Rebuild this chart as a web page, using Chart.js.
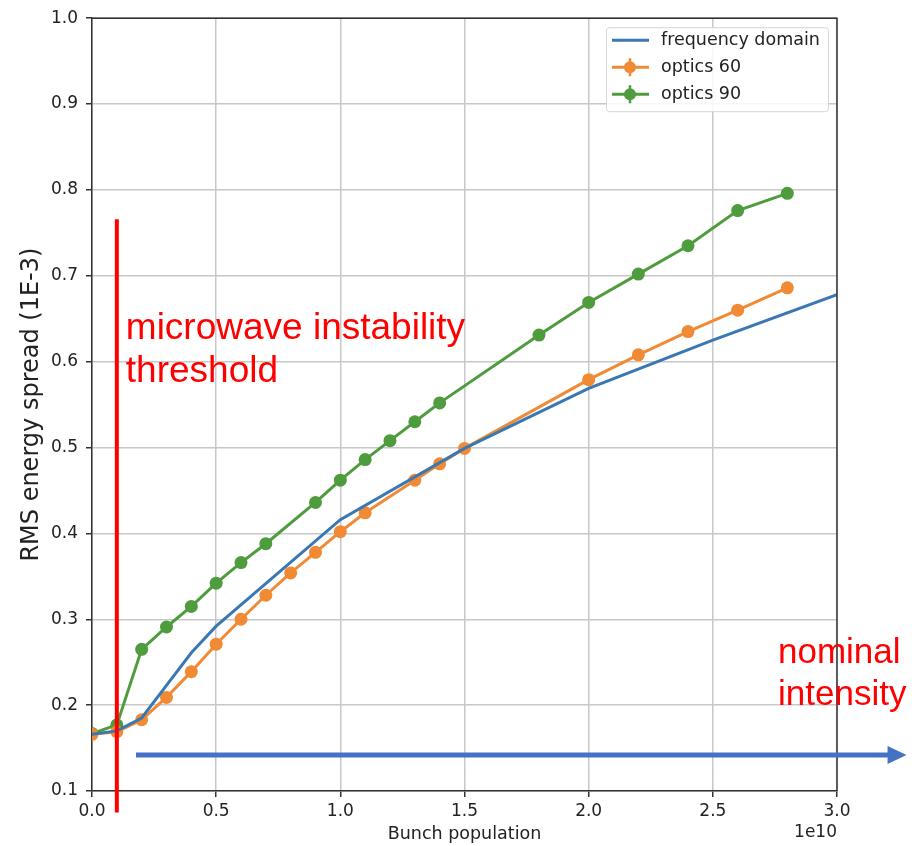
<!DOCTYPE html>
<html>
<head>
<meta charset="utf-8">
<script src="https://cdn.jsdelivr.net/npm/chart.js@4.4.1/dist/chart.umd.min.js"></script>
<style>
  body { margin: 0; background: #fff; }
  #wrap { width: 921px; height: 846px; }
</style>
</head>
<body>
<div id="wrap"><canvas id="chart" width="921" height="846"></canvas></div>
<script>
// bunch population (1e10) and rms energy spread (1E-3)
const popFreq = [0, 0.1, 0.2, 0.3, 0.4, 0.5, 1.0, 1.5, 2.0, 2.5, 3.0];
const spreadFreq = [0.166, 0.170, 0.185, 0.223, 0.261, 0.292, 0.416, 0.499, 0.569, 0.625, 0.678];

const popOptics60 = [0, 0.1, 0.2, 0.3, 0.4, 0.5, 0.6, 0.7, 0.8, 0.9, 1.0, 1.1, 1.3, 1.4, 1.5, 2.0, 2.2, 2.4, 2.6, 2.8];
const spreadOptics60 = [0.166, 0.169, 0.183, 0.209, 0.239, 0.271, 0.300, 0.328, 0.354, 0.378, 0.402, 0.424, 0.462, 0.481, 0.499, 0.579, 0.608, 0.635, 0.660, 0.686];

const popOptics90 = [0, 0.1, 0.2, 0.3, 0.4, 0.5, 0.6, 0.7, 0.9, 1.0, 1.1, 1.2, 1.3, 1.4, 1.8, 2.0, 2.2, 2.4, 2.6, 2.8];
const spreadOptics90 = [0.167, 0.177, 0.265, 0.291, 0.315, 0.342, 0.366, 0.388, 0.436, 0.462, 0.486, 0.508, 0.530, 0.552, 0.631, 0.669, 0.702, 0.735, 0.776, 0.796];

const seriesNames = ['frequency domain', 'optics 60', 'optics 90'];

// annotation anchors, in data units
const thresholdPop = 0.1;
const thresholdTop = 0.766;
const thresholdBottom = 0.075;
const arrowStart = 0.177;
const arrowEnd = 3.28;
const arrowLevel = 0.142;

const BLUE = '#3a78b4';
const ORANGE = '#f08a34';
const GREEN = '#4f9c3e';
const TICK_FONT = { family: 'DejaVu Sans', size: 17 };

function pts(xs, ys) {
    return xs.map((x, i) => ({ x: x, y: ys[i] }));
}

// frame, legend and the slide annotations
const extras = {
    id: 'extras',
    afterDatasetsDraw(chart) {
        const ctx = chart.ctx;
        const a = chart.chartArea;
        ctx.save();
        ctx.strokeStyle = '#333';
        ctx.lineWidth = 1.5;
        ctx.beginPath();
        ctx.moveTo(a.left, a.top);
        ctx.lineTo(a.right, a.top);
        ctx.lineTo(a.right, a.bottom);
        ctx.stroke();

        // legend box
        const lx = a.right - 231, ly = a.top + 9, lw = 222, lh = 84;
        ctx.fillStyle = 'rgba(255,255,255,0.85)';
        ctx.strokeStyle = '#d6d6d6';
        ctx.lineWidth = 1;
        ctx.beginPath();
        ctx.roundRect(lx + 0.5, ly + 0.5, lw, lh, 3);
        ctx.fill();
        ctx.stroke();
        ctx.font = '17.5px "DejaVu Sans"';
        ctx.textBaseline = 'middle';
        chart.data.datasets.forEach((ds, i) => {
            const ry = ly + 13 + i * 27;
            ctx.strokeStyle = ds.borderColor;
            ctx.lineWidth = 3;
            ctx.beginPath();
            ctx.moveTo(lx + 6, ry);
            ctx.lineTo(lx + 43, ry);
            ctx.stroke();
            if (i > 0) {
                ctx.fillStyle = ds.borderColor;
                ctx.beginPath();
                ctx.arc(lx + 24, ry, 6, 0, Math.PI * 2);
                ctx.fill();
                ctx.lineWidth = 2.5;
                ctx.beginPath();
                ctx.moveTo(lx + 24, ry - 9);
                ctx.lineTo(lx + 24, ry + 9);
                ctx.stroke();
            }
            ctx.fillStyle = '#222';
            ctx.fillText(ds.label, lx + 55, ry);
        });
        ctx.restore();
    },
    afterDraw(chart) {
        const ctx = chart.ctx;
        const xs = chart.scales.x, ys = chart.scales.y;
        const a = chart.chartArea;
        ctx.save();

        // offset text
        ctx.fillStyle = '#222';
        ctx.font = '17px "DejaVu Sans"';
        ctx.textAlign = 'right';
        ctx.textBaseline = 'middle';
        ctx.fillText('1e10', a.right, 833);

        // threshold line
        const tx = xs.getPixelForValue(thresholdPop);
        ctx.strokeStyle = '#ff0000';
        ctx.lineWidth = 4;
        ctx.beginPath();
        ctx.moveTo(tx, ys.getPixelForValue(thresholdTop));
        ctx.lineTo(tx, ys.getPixelForValue(thresholdBottom));
        ctx.stroke();

        // nominal intensity arrow
        const ay = ys.getPixelForValue(arrowLevel);
        const ax0 = xs.getPixelForValue(arrowStart);
        const ax1 = xs.getPixelForValue(arrowEnd);
        ctx.strokeStyle = '#4472c4';
        ctx.fillStyle = '#4472c4';
        ctx.lineWidth = 5;
        ctx.beginPath();
        ctx.moveTo(ax0, ay);
        ctx.lineTo(ax1 - 18, ay);
        ctx.stroke();
        ctx.beginPath();
        ctx.moveTo(ax1, ay);
        ctx.lineTo(ax1 - 19, ay - 9);
        ctx.lineTo(ax1 - 19, ay + 9);
        ctx.closePath();
        ctx.fill();

        // red labels
        ctx.fillStyle = '#ff0000';
        ctx.font = '37px "Liberation Sans", Arial, sans-serif';
        ctx.textAlign = 'left';
        ctx.textBaseline = 'alphabetic';
        ctx.fillText('microwave instability', tx + 9, 339);
        ctx.fillText('threshold', tx + 9, 382);
        ctx.font = '35px "Liberation Sans", Arial, sans-serif';
        ctx.fillText('nominal', 778, 663);
        ctx.fillText('intensity', 778, 705);
        ctx.restore();
    }
};

const ctx = document.getElementById('chart').getContext('2d');

new Chart(ctx, {
    type: 'line',
    data: {
        datasets: [
            {
                label: seriesNames[0],
                data: pts(popFreq, spreadFreq),
                borderColor: BLUE,
                backgroundColor: BLUE,
                borderWidth: 3,
                pointRadius: 0,
                tension: 0
            },
            {
                label: seriesNames[1],
                data: pts(popOptics60, spreadOptics60),
                borderColor: ORANGE,
                backgroundColor: ORANGE,
                borderWidth: 3,
                pointRadius: 6.5,
                pointBorderWidth: 0,
                tension: 0
            },
            {
                label: seriesNames[2],
                data: pts(popOptics90, spreadOptics90),
                borderColor: GREEN,
                backgroundColor: GREEN,
                borderWidth: 3,
                pointRadius: 6.5,
                pointBorderWidth: 0,
                tension: 0
            }
        ]
    },
    options: {
        responsive: false,
        animation: false,
        layout: { padding: { left: 0, top: 16, right: 84, bottom: 0 } },
        plugins: {
            legend: { display: false },
            tooltip: { enabled: false }
        },
        scales: {
            x: {
                type: 'linear',
                min: 0,
                max: 3.0,
                ticks: {
                    stepSize: 0.5,
                    color: '#222',
                    font: TICK_FONT,
                    padding: 4,
                    maxRotation: 0,
                    callback: v => v.toFixed(1)
                },
                grid: { color: '#c8c8c8', lineWidth: 1.5, tickLength: 6, tickColor: '#333' },
                border: { color: '#333', width: 1.5 },
                title: {
                    display: true,
                    text: 'Bunch population',
                    color: '#222',
                    font: { family: 'DejaVu Sans', size: 17.5 },
                    padding: { top: 0, bottom: 1 }
                },
                afterFit: s => { s.height = 55; }
            },
            y: {
                min: 0.1,
                max: 1.0,
                ticks: {
                    stepSize: 0.1,
                    color: '#222',
                    font: TICK_FONT,
                    padding: 8,
                    callback: v => v.toFixed(1)
                },
                grid: { color: '#c8c8c8', lineWidth: 1.5, tickLength: 6, tickColor: '#333' },
                border: { color: '#333', width: 1.5 },
                title: {
                    display: true,
                    text: 'RMS energy spread (1E-3)',
                    color: '#222',
                    font: { family: 'DejaVu Sans', size: 24 },
                    padding: { top: 17, bottom: 0 }
                },
                afterFit: s => { s.width = 92; }
            }
        }
    },
    plugins: [extras]
});
</script>
</body>
</html>
